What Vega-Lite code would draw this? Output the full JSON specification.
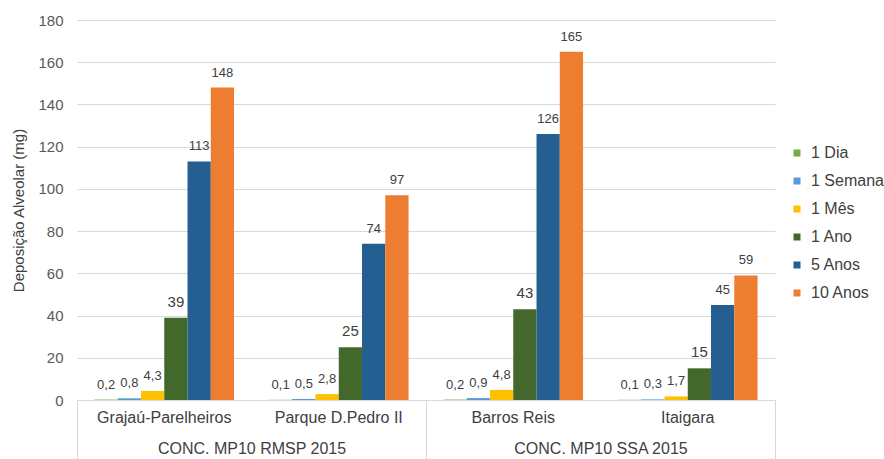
{
  "$schema": "https://vega.github.io/schema/vega-lite/v6.json",
  "width": 698,
  "height": 380,
  "autosize": {"type": "none"},
  "padding": {"left": 77, "top": 20, "right": 109, "bottom": 59},
  "background": "white",
  "config": {
    "font": "Liberation Sans",
    "view": {"stroke": null},
    "axis": {"labelColor": "#595959", "titleColor": "#595959", "labelFont": "Liberation Sans", "titleFont": "Liberation Sans"}
  },
  "data": {
    "values": [
      {"site": "Grajaú-Parelheiros", "group": "CONC. MP10 RMSP 2015", "series": "1 Dia", "value": 0.2, "label": "0,2"},
      {"site": "Grajaú-Parelheiros", "group": "CONC. MP10 RMSP 2015", "series": "1 Semana", "value": 0.8, "label": "0,8"},
      {"site": "Grajaú-Parelheiros", "group": "CONC. MP10 RMSP 2015", "series": "1 Mês", "value": 4.3, "label": "4,3"},
      {"site": "Grajaú-Parelheiros", "group": "CONC. MP10 RMSP 2015", "series": "1 Ano", "value": 39, "label": "39"},
      {"site": "Grajaú-Parelheiros", "group": "CONC. MP10 RMSP 2015", "series": "5 Anos", "value": 113, "label": "113"},
      {"site": "Grajaú-Parelheiros", "group": "CONC. MP10 RMSP 2015", "series": "10 Anos", "value": 148, "label": "148"},
      {"site": "Parque D.Pedro II", "group": "CONC. MP10 RMSP 2015", "series": "1 Dia", "value": 0.1, "label": "0,1"},
      {"site": "Parque D.Pedro II", "group": "CONC. MP10 RMSP 2015", "series": "1 Semana", "value": 0.5, "label": "0,5"},
      {"site": "Parque D.Pedro II", "group": "CONC. MP10 RMSP 2015", "series": "1 Mês", "value": 2.8, "label": "2,8"},
      {"site": "Parque D.Pedro II", "group": "CONC. MP10 RMSP 2015", "series": "1 Ano", "value": 25, "label": "25"},
      {"site": "Parque D.Pedro II", "group": "CONC. MP10 RMSP 2015", "series": "5 Anos", "value": 74, "label": "74"},
      {"site": "Parque D.Pedro II", "group": "CONC. MP10 RMSP 2015", "series": "10 Anos", "value": 97, "label": "97"},
      {"site": "Barros Reis", "group": "CONC. MP10 SSA 2015", "series": "1 Dia", "value": 0.2, "label": "0,2"},
      {"site": "Barros Reis", "group": "CONC. MP10 SSA 2015", "series": "1 Semana", "value": 0.9, "label": "0,9"},
      {"site": "Barros Reis", "group": "CONC. MP10 SSA 2015", "series": "1 Mês", "value": 4.8, "label": "4,8"},
      {"site": "Barros Reis", "group": "CONC. MP10 SSA 2015", "series": "1 Ano", "value": 43, "label": "43"},
      {"site": "Barros Reis", "group": "CONC. MP10 SSA 2015", "series": "5 Anos", "value": 126, "label": "126"},
      {"site": "Barros Reis", "group": "CONC. MP10 SSA 2015", "series": "10 Anos", "value": 165, "label": "165"},
      {"site": "Itaigara", "group": "CONC. MP10 SSA 2015", "series": "1 Dia", "value": 0.1, "label": "0,1"},
      {"site": "Itaigara", "group": "CONC. MP10 SSA 2015", "series": "1 Semana", "value": 0.3, "label": "0,3"},
      {"site": "Itaigara", "group": "CONC. MP10 SSA 2015", "series": "1 Mês", "value": 1.7, "label": "1,7"},
      {"site": "Itaigara", "group": "CONC. MP10 SSA 2015", "series": "1 Ano", "value": 15, "label": "15"},
      {"site": "Itaigara", "group": "CONC. MP10 SSA 2015", "series": "5 Anos", "value": 45, "label": "45"},
      {"site": "Itaigara", "group": "CONC. MP10 SSA 2015", "series": "10 Anos", "value": 59, "label": "59"}
    ]
  },
  "layer": [
    {
      "encoding": {
        "x": {
          "field": "site", "type": "nominal",
          "sort": ["Grajaú-Parelheiros", "Parque D.Pedro II", "Barros Reis", "Itaigara"],
          "scale": {"paddingInner": 0.2, "paddingOuter": 0.1},
          "axis": {"title": null, "orient": "bottom", "labelAngle": 0, "ticks": false, "domain": true, "domainColor": "#d9d9d9", "labelFontSize": 16, "labelPadding": 9, "labelColor": "#404040", "grid": false, "labelLimit": 400}
        },
        "xOffset": {
          "field": "series", "type": "nominal",
          "sort": ["1 Dia", "1 Semana", "1 Mês", "1 Ano", "5 Anos", "10 Anos"],
          "scale": {"paddingInner": 0, "paddingOuter": 0}
        },
        "y": {
          "field": "value", "type": "quantitative",
          "scale": {"domain": [0, 180], "nice": false},
          "axis": {"title": "Deposição Alveolar (mg)", "values": [0, 20, 40, 60, 80, 100, 120, 140, 160, 180], "domain": false, "ticks": false, "grid": true, "gridColor": "#d9d9d9", "labelFontSize": 15, "labelPadding": 14, "titleFontSize": 15, "titleFontWeight": "normal", "titlePadding": 11, "titleColor": "#404040"}
        }
      },
      "layer": [
        {
          "mark": {"type": "bar"},
          "encoding": {
            "color": {
              "field": "series", "type": "nominal",
              "scale": {
                "domain": ["1 Dia", "1 Semana", "1 Mês", "1 Ano", "5 Anos", "10 Anos"],
                "range": ["#70ad47", "#5b9bd5", "#ffc000", "#43682b", "#255e91", "#ed7d31"]
              },
              "legend": {
                "title": null, "orient": "none", "legendX": 712, "legendY": 125, "padding": 0,
                "symbolType": "square", "symbolSize": 49, "symbolStrokeWidth": 0,
                "labelFontSize": 16, "labelColor": "#404040", "labelOffset": 6, "rowPadding": 12
              }
            }
          }
        },
        {
          "mark": {"type": "text", "baseline": "alphabetic", "dy": -11, "color": "#404040"},
          "encoding": {
            "text": {"field": "label", "type": "nominal"},
            "size": {"condition": {"test": "datum.series === '1 Ano'", "value": 15}, "value": 13}
          }
        }
      ]
    },
    {
      "mark": {"type": "rule", "opacity": 0},
      "encoding": {
        "x": {
          "field": "group", "type": "nominal",
          "sort": ["CONC. MP10 RMSP 2015", "CONC. MP10 SSA 2015"],
          "scale": {"paddingInner": 0, "paddingOuter": 0},
          "axis": {"title": null, "orient": "bottom", "labelAngle": 0, "domain": false, "ticks": true, "tickBand": "extent", "tickSize": 59, "tickColor": "#d9d9d9", "labelFontSize": 16, "labelPadding": -19, "labelColor": "#404040", "grid": false, "labelLimit": 400}
        }
      }
    }
  ],
  "resolve": {"scale": {"x": "independent"}, "axis": {"x": "independent"}}
}
